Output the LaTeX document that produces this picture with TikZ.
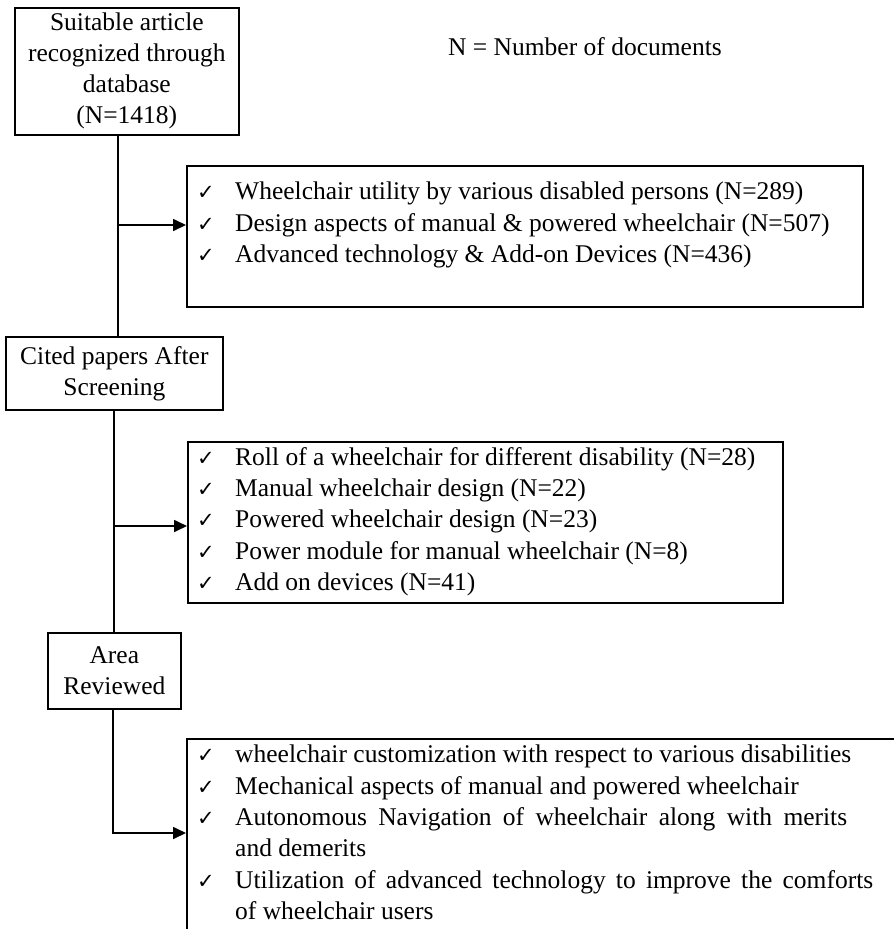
\documentclass[tikz,border=0pt]{standalone}
\usepackage{fontspec}
\setmainfont{Liberation Serif}
\newfontfamily\ckfont{DejaVu Sans}
\usetikzlibrary{arrows.meta}
\newcommand{\ck}{\makebox[39pt][l]{\hspace*{1pt}\ckfont\fontsize{21}{21}\selectfont ✓}}
\newcommand{\ckind}{\hspace*{39pt}}
\begin{document}
\begin{tikzpicture}[x=1pt,y=-1pt,
  box/.style={draw, line width=1.7pt, inner sep=0pt, anchor=north west},
  lbl/.style={align=center, font=\fontsize{25.5}{31}\selectfont},
  lst/.style={align=left, anchor=north west, inner sep=0pt, font=\fontsize{25.5}{31.3}\selectfont},
  conn/.style={line width=1.7pt},
  arr/.style={line width=1.7pt, -{Triangle[length=13pt,width=12pt]}}]
\clip (0,0) rectangle (894,929);
\fill[white] (0,0) rectangle (894,929);
% left column boxes
\node[box, lbl, minimum width=224pt, minimum height=127pt] (b1) at (14,7)
  {Suitable article\\recognized through\\database\\(N=1418)};
\node[box, lbl, minimum width=217pt, minimum height=73pt] (b2) at (5,336)
  {Cited papers After\\Screening};
\node[box, lbl, minimum width=133pt, minimum height=76pt] (b3) at (47,632)
  {Area\\Reviewed};
% legend
\node[lbl, anchor=west, inner sep=0pt] (legend) at (448,47) {N = Number of documents};
% list boxes
\node[box, minimum width=676pt, minimum height=141pt] (bA) at (186,165) {};
\node[box, minimum width=595pt, minimum height=161pt] (bB) at (187,441) {};
\node[box, minimum width=712pt, minimum height=260pt] (bC) at (186,738) {};
% list texts
\node[lst] (lA) at (196,182)
  {\ck Wheelchair utility by various disabled persons (N=289)\\
   \ck Design aspects of manual \& powered wheelchair (N=507)\\
   \ck Advanced technology \& Add-on Devices (N=436)};
\node[lst] (lB) at (196,447)
  {\ck Roll of a wheelchair for different disability (N=28)\\
   \ck Manual wheelchair design (N=22)\\
   \ck Powered wheelchair design (N=23)\\
   \ck Power module for manual wheelchair (N=8)\\
   \ck Add on devices (N=41)};
\node[lst] (lC) at (196,745)
  {\ck wheelchair customization with respect to various disabilities\\
   \ck Mechanical aspects of manual and powered wheelchair\\
   \ck \makebox[612pt][s]{Autonomous Navigation of wheelchair along with merits}\\
   \ckind and demerits\\
   \ck \makebox[638pt][s]{Utilization of advanced technology to improve the comforts}\\
   \ckind of wheelchair users};
% junctions
\coordinate (j1) at (118,225);
\coordinate (j2) at (114,526);
\coordinate (j3) at (113,833);
% connectors
\draw[conn] (b1.south -| j1) -- (b2.north -| j1);
\draw[arr] (j1) -- (j1 -| bA.west);
\draw[conn] (b2.south -| j2) -- (b3.north -| j2);
\draw[arr] (j2) -- (j2 -| bB.west);
\draw[arr] (b3.south -| j3) -- (j3) -- (j3 -| bC.west);
\end{tikzpicture}
\end{document}
